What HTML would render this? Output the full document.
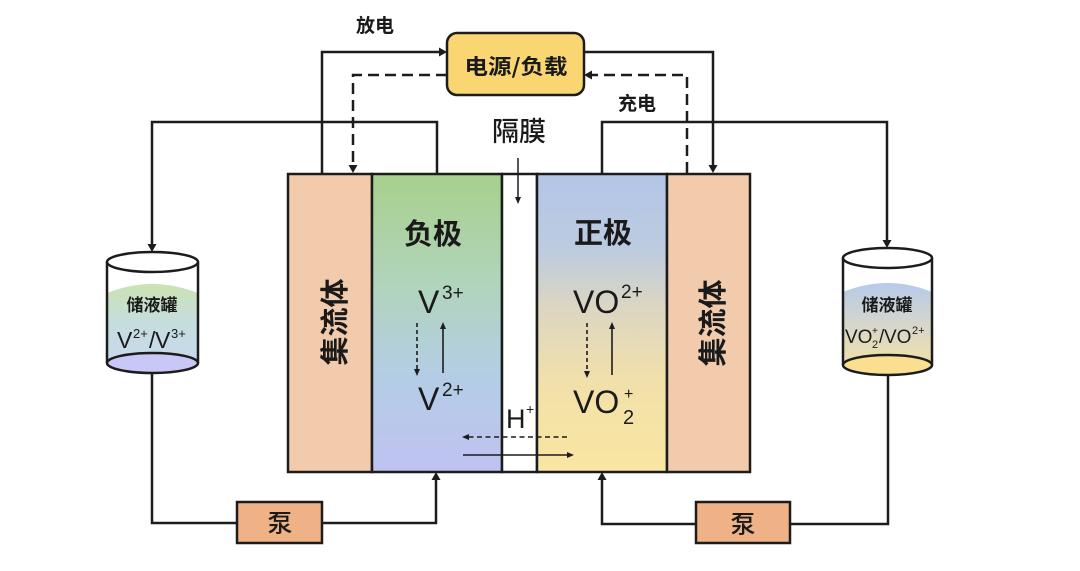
<!DOCTYPE html>
<html><head><meta charset="utf-8">
<style>
html,body{margin:0;padding:0;background:#fff;}
svg{display:block;}
text{font-family:"Liberation Sans","Noto Sans CJK SC",sans-serif;fill:#1a1a1a;}
.cjk{font-family:"Noto Sans CJK SC","Liberation Sans",sans-serif;}
</style></head>
<body>
<svg width="1080" height="571" viewBox="0 0 1080 571" xmlns="http://www.w3.org/2000/svg">
<defs>
<linearGradient id="neg" x1="0" y1="0" x2="0" y2="1">
<stop offset="0" stop-color="#a8d08c"/>
<stop offset="0.38" stop-color="#b1d4bd"/>
<stop offset="0.68" stop-color="#b4cde6"/>
<stop offset="1" stop-color="#c0c2f2"/>
</linearGradient>
<linearGradient id="pos" x1="0" y1="0" x2="0" y2="1">
<stop offset="0" stop-color="#b3c6e7"/>
<stop offset="0.25" stop-color="#bccbe0"/>
<stop offset="0.45" stop-color="#dcd6c2"/>
<stop offset="0.7" stop-color="#f2e0aa"/>
<stop offset="1" stop-color="#f9e6a2"/>
</linearGradient>
<linearGradient id="tl" x1="0" y1="0" x2="0" y2="1">
<stop offset="0" stop-color="#cbe2b2"/>
<stop offset="0.45" stop-color="#c5ddde"/>
<stop offset="1" stop-color="#c8d8f0"/>
</linearGradient>
<linearGradient id="tr" x1="0" y1="0" x2="0" y2="1">
<stop offset="0" stop-color="#b6cae9"/>
<stop offset="0.45" stop-color="#d6d6cc"/>
<stop offset="1" stop-color="#f7e2a0"/>
</linearGradient>
</defs>

<!-- cell -->
<g stroke="#1c1c1c" stroke-width="2.5">
<rect x="288" y="174" width="84" height="298" fill="#f2cbad"/>
<rect x="372" y="174" width="130" height="298" fill="url(#neg)"/>
<rect x="502" y="174" width="35" height="298" fill="#ffffff"/>
<rect x="537" y="174" width="130" height="298" fill="url(#pos)"/>
<rect x="667" y="174" width="83" height="298" fill="#f2cbad"/>
</g>

<!-- wires -->
<g fill="none" stroke="#1c1c1c" stroke-width="2.5">
<path d="M322,173 V52 H440"/>
<path d="M447,75 H353 V166" stroke-dasharray="11,6"/>
<path d="M152,245 V122 H437 V173"/>
<path d="M584,52 H713 V166"/>
<path d="M687,173 V75 H591" stroke-dasharray="11,6"/>
<path d="M602,173 V122 H887 V241"/>
<path d="M152,373 V523 H237"/>
<path d="M322,523 H436 V479"/>
<path d="M602,479 V524 H696"/>
<path d="M790,524 H888 V375"/>
</g>
<g fill="#1c1c1c">
<polygon points="447,52 439,47.5 439,56.5"/>
<polygon points="353,173 348.5,165 357.5,165"/>
<polygon points="152,252 147.5,244 156.5,244"/>
<polygon points="713,173 708.5,165 717.5,165"/>
<polygon points="584,75 592,70.5 592,79.5"/>
<polygon points="887,248 882.5,240 891.5,240"/>
<polygon points="436,472 431.5,480 440.5,480"/>
<polygon points="602,472 597.5,480 606.5,480"/>
</g>

<!-- power box -->
<rect x="447" y="33" width="137" height="62" rx="10" ry="10" fill="#fad673" stroke="#1c1c1c" stroke-width="2.5"/>
<text class="cjk" x="516" y="74" font-size="21" font-weight="bold" text-anchor="middle" textLength="103" lengthAdjust="spacingAndGlyphs">电源/负载</text>

<text class="cjk" x="375" y="32" font-size="19" font-weight="bold" text-anchor="middle">放电</text>
<text class="cjk" x="637" y="110" font-size="19" font-weight="bold" text-anchor="middle">充电</text>
<text class="cjk" x="519" y="141" font-size="27" font-weight="500" text-anchor="middle">隔膜</text>

<!-- membrane arrow -->
<line x1="518" y1="158" x2="518" y2="198" stroke="#1c1c1c" stroke-width="1.5"/>
<polygon points="518,204 515,197 521,197" fill="#1c1c1c"/>

<!-- electrode labels -->
<text class="cjk" x="433" y="244" font-size="29" font-weight="bold" text-anchor="middle">负极</text>
<text class="cjk" x="603" y="243" font-size="29" font-weight="bold" text-anchor="middle">正极</text>

<g transform="translate(334,322) rotate(-90)"><text class="cjk" x="0" y="11" font-size="29" font-weight="bold" text-anchor="middle">集流体</text></g>
<g transform="translate(712,323) rotate(-90)"><text class="cjk" x="0" y="11" font-size="29" font-weight="bold" text-anchor="middle">集流体</text></g>

<!-- ions -->
<text x="418" y="313" font-size="32">V</text>
<text x="442" y="299" font-size="19">3+</text>
<text x="418" y="410" font-size="32">V</text>
<text x="442" y="396" font-size="19">2+</text>
<text x="573" y="313" font-size="32">VO</text>
<text x="621" y="298" font-size="19">2+</text>
<text x="573" y="413" font-size="32">VO</text>
<text x="624" y="399" font-size="16">+</text>
<text x="623" y="424" font-size="20">2</text>
<text x="506" y="428" font-size="27">H</text>
<text x="526" y="414" font-size="14">+</text>

<!-- reaction arrows -->
<g stroke="#1c1c1c" stroke-width="1.6" fill="none">
<line x1="417" y1="323" x2="417" y2="369" stroke-dasharray="4,3"/>
<line x1="443" y1="329" x2="443" y2="373"/>
<line x1="587" y1="323" x2="587" y2="371" stroke-dasharray="4,3"/>
<line x1="612" y1="329" x2="612" y2="375"/>
<line x1="567" y1="437" x2="469" y2="437" stroke-dasharray="5,3.5"/>
<line x1="463" y1="455" x2="567" y2="455"/>
</g>
<g fill="#1c1c1c">
<polygon points="417,376 414,369 420,369"/>
<polygon points="443,322 440,329 446,329"/>
<polygon points="587,378 584,371 590,371"/>
<polygon points="612,322 609,329 615,329"/>
<polygon points="462,437 469,434 469,440"/>
<polygon points="574,455 567,452 567,458"/>
</g>

<!-- pumps -->
<rect x="237" y="502" width="85" height="41" fill="#efb286" stroke="#1c1c1c" stroke-width="2.5"/>
<text class="cjk" x="280" y="532" font-size="25" font-weight="500" text-anchor="middle">泵</text>
<rect x="696" y="502" width="94" height="41" fill="#efb286" stroke="#1c1c1c" stroke-width="2.5"/>
<text class="cjk" x="743" y="533" font-size="25" font-weight="500" text-anchor="middle">泵</text>

<!-- left tank -->
<path d="M107,293 Q152,275 198,293 V363 A45.5,10 0 0 1 107,363 Z" fill="url(#tl)"/>
<ellipse cx="152.5" cy="363" rx="45.5" ry="10" fill="#c9c7f5" stroke="#1c1c1c" stroke-width="2.5"/>
<line x1="107" y1="262" x2="107" y2="363" stroke="#1c1c1c" stroke-width="2.5"/>
<line x1="198" y1="262" x2="198" y2="363" stroke="#1c1c1c" stroke-width="2.5"/>
<ellipse cx="152.5" cy="262" rx="45.5" ry="10" fill="none" stroke="#1c1c1c" stroke-width="2.5"/>
<text class="cjk" x="152" y="311" font-size="17" font-weight="bold" text-anchor="middle">储液罐</text>
<text x="117" y="348" font-size="23" fill="#333">V</text>
<text x="133" y="338" font-size="13" fill="#333">2+</text>
<text x="149" y="348" font-size="23" fill="#333">/</text>
<text x="155" y="348" font-size="23" fill="#333">V</text>
<text x="171" y="338" font-size="13" fill="#333">3+</text>

<!-- right tank -->
<path d="M843,292 Q887.5,274 932,292 V365 A44.5,10 0 0 1 843,365 Z" fill="url(#tr)"/>
<ellipse cx="887.5" cy="365" rx="44.5" ry="10" fill="#f9df8f" stroke="#1c1c1c" stroke-width="2.5"/>
<line x1="843" y1="258" x2="843" y2="365" stroke="#1c1c1c" stroke-width="2.5"/>
<line x1="932" y1="258" x2="932" y2="365" stroke="#1c1c1c" stroke-width="2.5"/>
<ellipse cx="887.5" cy="258" rx="44.5" ry="10" fill="none" stroke="#1c1c1c" stroke-width="2.5"/>
<text class="cjk" x="887" y="311" font-size="17" font-weight="bold" text-anchor="middle">储液罐</text>
<text x="845" y="343" font-size="19" fill="#333">VO</text>
<text x="872" y="334" font-size="10" fill="#333">+</text>
<text x="872" y="348" font-size="11" fill="#333">2</text>
<text x="879" y="343" font-size="19" fill="#333">/</text>
<text x="884" y="343" font-size="19" fill="#333">VO</text>
<text x="912" y="334" font-size="11" fill="#333">2+</text>
</svg>
</body></html>
